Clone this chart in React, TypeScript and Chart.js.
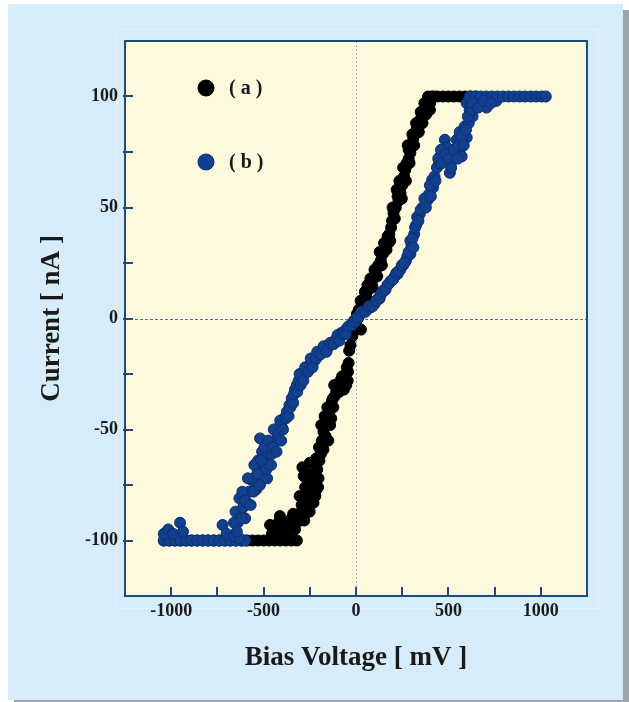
import React, { useEffect, useRef } from 'react';
import { Chart, registerables } from 'chart.js';

Chart.register(...registerables);

// Axis definitions
const xLabelTicks = [-1000, -500, 0, 500, 1000];
const yLabelTicks = [-100, -50, 0, 50, 100];
const xRange = [-1250, 1250];
const yRange = [-125, 125];
const xStep = 250;
const yStep = 25;

const xTitle = 'Bias Voltage [ mV ]';
const yTitle = 'Current [ nA ]';
const legendLabels = ['( a )', '( b )'];

// Series (a): black
const seriesA: [number, number][] = [
  [-1040, -100], [-1010, -100], [-980, -100], [-950, -100], [-920, -100], [-890, -100],
  [-860, -100], [-830, -100], [-800, -100], [-770, -100], [-740, -100], [-710, -100],
  [-680, -100], [-650, -100], [-620, -100], [-590, -100], [-560, -100], [-530, -100],
  [-500, -100], [-470, -100], [-440, -100], [-410, -100], [-380, -100], [-350, -100], [-320, -100],
  [-465, -93], [-440, -95], [-412, -89], [-401, -94.6], [-380, -92], [-348, -90], [-330, -95],
  [-310, -88], [-294, -84], [-280, -91], [-270, -86], [-251, -87], [-241, -81], [-260, -78],
  [-230, -83], [-214, -77], [-225, -74], [-203, -72], [-283, -71], [-290, -67], [-265, -70],
  [-250, -65], [-198, -64], [-210, -68], [-176, -59], [-190, -61], [-150, -55], [-165, -53],
  [-176, -51], [-160, -47], [-134, -45], [-145, -42], [-123, -40], [-130, -37], [-107, -33],
  [-115, -35], [-90, -33], [-70, -31], [-53, -30], [-60, -27], [-43, -24], [-50, -22],
  [-37, -14.5], [-20, -8], [-5, -3], [10, 0], [27, -5], [20, 2], [35, 5], [43, 7], [55, 10],
  [70, 13], [85, 16], [96, 18.5], [110, 22], [120, 24], [134, 26], [145, 29], [160, 31],
  [176, 34], [171, 37], [180, 38], [190, 41], [195, 44], [203, 47.5], [215, 50], [225, 55],
  [230, 53], [241, 56.6], [240, 60], [250, 60], [260, 64], [267, 67], [275, 70], [285, 72],
  [285, 76], [294, 74.6], [300, 78], [310, 81], [321, 83.7], [330, 84], [330, 86], [340, 88],
  [348, 89.6], [355, 92], [364, 93], [375, 94], [385, 95.5], [395, 98], [401, 97], [410, 100],
  [420, 100], [440, 100], [470, 100], [500, 100], [530, 100], [560, 100], [590, 100],
  [620, 100], [650, 100],
  [-455, -97], [-420, -92], [-395, -97], [-360, -96], [-340, -88], [-320, -92], [-300, -90],
  [-305, -80], [-285, -82], [-275, -76], [-262, -83], [-245, -74], [-235, -70], [-220, -80],
  [-205, -76], [-215, -63], [-200, -58], [-185, -55], [-188, -48], [-170, -44], [-155, -40],
  [-140, -48], [-125, -36], [-118, -30], [-100, -30], [-85, -28], [-75, -26], [-65, -32],
  [-45, -28], [-40, -20], [-30, -12], [-15, -6], [0, -2], [5, 2], [15, 4], [25, 8], [30, 3],
  [48, 12], [60, 9], [62, 15], [78, 18], [90, 14], [100, 22], [115, 19], [128, 30], [140, 24],
  [152, 34], [165, 31], [185, 35], [198, 50], [210, 45], [220, 58], [235, 62], [248, 54],
  [255, 68], [270, 62], [280, 78], [290, 70], [305, 83], [315, 78], [325, 88], [340, 84],
  [350, 93], [360, 88], [370, 97], [380, 92], [390, 100], [400, 94],
];

// Series (b): blue
const seriesB: [number, number][] = [
  [-1040, -100], [-1010, -100], [-980, -100], [-950, -100], [-920, -100], [-890, -100],
  [-860, -100], [-830, -100], [-800, -100], [-770, -100], [-740, -100], [-710, -100],
  [-680, -100], [-650, -100], [-620, -100], [-600, -100],
  [-1040, -97], [-1016, -95], [-990, -97], [-952, -92], [-936, -96], [-722, -93], [-700, -97],
  [-660, -98], [-631, -99],
  [-652, -87], [-640, -92], [-631, -81], [-610, -85], [-600, -90], [-578, -78], [-590, -83],
  [-561, -73], [-545, -72], [-540, -77], [-524, -69], [-530, -64], [-508, -63], [-519, -54],
  [-508, -60], [-500, -67], [-481, -72], [-490, -65], [-471, -61], [-455, -61], [-439, -55],
  [-428, -55], [-417, -49], [-401, -49], [-390, -45], [-374, -42], [-360, -39], [-348, -36],
  [-330, -32], [-320, -30], [-310, -28], [-290, -26], [-280, -24], [-267, -23.5], [-250, -21],
  [-240, -20], [-225, -19], [-200, -16.5], [-180, -15], [-165, -14], [-150, -13], [-130, -11],
  [-110, -9.5], [-96, -8.6], [-80, -6.5], [-64, -6], [-50, -4.5], [-30, -3], [-11, -1], [0, 0],
  [20, 1.5], [40, 3], [60, 4], [80, 5], [100, 6.5], [120, 9], [135, 11], [150, 12.7],
  [170, 15], [190, 17], [210, 19], [225, 20], [240, 22], [255, 24], [270, 26], [278, 28],
  [294, 29], [300, 33], [294, 35], [315, 38], [320, 41], [331, 45.7], [345, 47], [360, 50],
  [385, 53], [395, 56], [412, 62.4], [417, 59], [425, 64], [438, 68], [450, 70], [455, 73],
  [471, 74.6], [481, 80.5], [492, 77], [508, 65.6], [524, 71.5], [540, 74], [561, 74.6],
  [572, 73], [545, 80.5], [561, 84], [577, 80.5], [588, 86.5], [599, 81.5], [599, 97],
  [610, 88], [615, 94], [631, 91], [620, 96], [640, 97], [652, 98], [706, 95], [759, 98],
  [615, 100], [645, 100], [675, 100], [705, 100], [735, 100], [765, 100], [795, 100],
  [825, 100], [855, 100], [885, 100], [915, 100], [945, 100], [975, 100], [1005, 100], [1027, 100],
  [-660, -92], [-645, -96], [-620, -90], [-615, -78], [-600, -82], [-585, -72], [-570, -84],
  [-555, -78], [-550, -66], [-535, -70], [-520, -75], [-515, -64], [-495, -58], [-485, -68],
  [-475, -55], [-460, -66], [-450, -58], [-445, -50], [-430, -60], [-420, -52], [-410, -46],
  [-405, -55], [-395, -50], [-380, -45], [-365, -44], [-355, -40], [-340, -38], [-335, -34],
  [-318, -33], [-300, -30], [-305, -25], [-285, -28], [-275, -22], [-260, -24], [-245, -18],
  [-235, -22], [-215, -18], [-210, -15], [-190, -16], [-175, -12.5], [-160, -15], [-140, -11],
  [-120, -11.5], [-100, -7.5], [-90, -10], [-70, -7], [-55, -7], [-40, -3.5], [-20, -3],
  [-5, -1.5], [10, 0.5], [30, 3], [50, 3], [70, 5.5], [90, 5.5], [110, 8], [128, 9], [145, 12],
  [160, 13], [180, 16], [200, 17.5], [218, 20.5], [232, 21.5], [248, 24], [262, 25], [285, 30],
  [305, 36], [310, 32], [325, 42], [338, 44], [350, 49], [370, 54], [378, 50], [400, 60],
  [405, 55], [430, 62], [445, 72], [460, 76], [465, 70], [485, 74], [500, 72], [515, 68],
  [530, 76], [550, 72], [555, 78], [570, 82], [583, 78], [595, 85], [605, 91], [625, 94],
  [630, 97], [660, 95], [690, 98], [730, 97],
];

const colorA = '#000000';
const colorB = '#12408f';
const colorBBorder = '#0b2f72';
const frameColor = '#1b4a7b';
const serif = "'Liberation Serif', 'Times New Roman', serif";

const decorPlugin = {
  id: 'decor',
  beforeDraw(chart: any) {
    const { ctx, chartArea: a } = chart;
    const xs = chart.scales.x;
    const ys = chart.scales.y;
    ctx.save();
    ctx.fillStyle = '#fdf9dc';
    ctx.fillRect(a.left, a.top, a.right - a.left, a.bottom - a.top);
    const x0 = Math.round(xs.getPixelForValue(0)) + 0.5;
    const y0 = Math.round(ys.getPixelForValue(0)) + 0.5;
    ctx.lineWidth = 1;
    ctx.strokeStyle = '#a3adb8';
    ctx.setLineDash([2, 2]);
    ctx.beginPath();
    ctx.moveTo(x0, a.top);
    ctx.lineTo(x0, a.bottom);
    ctx.stroke();
    ctx.strokeStyle = '#3f6db3';
    ctx.setLineDash([3, 2]);
    ctx.beginPath();
    ctx.moveTo(a.left, y0);
    ctx.lineTo(a.right, y0);
    ctx.stroke();
    ctx.restore();
  },
  afterDraw(chart: any) {
    const { ctx, chartArea: a } = chart;
    const xs = chart.scales.x;
    const ys = chart.scales.y;
    ctx.save();
    ctx.strokeStyle = frameColor;
    ctx.lineWidth = 2;
    ctx.setLineDash([]);
    ctx.strokeRect(a.left, a.top, a.right - a.left, a.bottom - a.top);
    const tl = 9;
    ctx.beginPath();
    xs.ticks.forEach((t: any) => {
      if (t.value <= xRange[0] || t.value >= xRange[1]) return;
      const px = Math.round(xs.getPixelForValue(t.value));
      ctx.moveTo(px, a.bottom);
      ctx.lineTo(px, a.bottom - tl);
    });
    ys.ticks.forEach((t: any) => {
      if (t.value <= yRange[0] || t.value >= yRange[1]) return;
      const py = Math.round(ys.getPixelForValue(t.value));
      ctx.moveTo(a.left - 2, py);
      ctx.lineTo(a.left + tl - 1, py);
    });
    ctx.stroke();
    const items = [
      { label: legendLabels[0], fill: colorA, stroke: colorA, dy: 47 },
      { label: legendLabels[1], fill: colorB, stroke: colorBBorder, dy: 121 },
    ];
    ctx.font = `bold 20px ${serif}`;
    ctx.textBaseline = 'middle';
    ctx.textAlign = 'left';
    items.forEach((it) => {
      const cx = a.left + 81;
      const cy = a.top + it.dy;
      ctx.beginPath();
      ctx.arc(cx, cy, 8, 0, Math.PI * 2);
      ctx.fillStyle = it.fill;
      ctx.fill();
      ctx.lineWidth = 1;
      ctx.strokeStyle = it.stroke;
      ctx.stroke();
      ctx.fillStyle = '#1a1a1a';
      ctx.fillText(it.label, cx + 23, cy + 1);
    });
    ctx.restore();
  },
};

export default function App() {
  const ref = useRef<HTMLCanvasElement | null>(null);

  useEffect(() => {
    if (!ref.current) return;
    const chart = new Chart(ref.current, {
      type: 'scatter',
      data: {
        datasets: [
          {
            label: '(b)',
            data: seriesB.map(([x, y]) => ({ x, y })),
            backgroundColor: colorB,
            borderColor: colorBBorder,
            borderWidth: 1,
            pointRadius: 5.5,
            order: 0,
          },
          {
            label: '(a)',
            data: seriesA.map(([x, y]) => ({ x, y })),
            backgroundColor: colorA,
            borderColor: colorA,
            borderWidth: 1,
            pointRadius: 5.5,
            order: 1,
          },
        ],
      },
      options: {
        animation: false,
        responsive: false,
        devicePixelRatio: 1,
        layout: { padding: { left: 8, top: 41, right: 42, bottom: 0 } },
        plugins: {
          legend: { display: false },
          tooltip: { enabled: false },
        },
        scales: {
          x: {
            type: 'linear',
            min: xRange[0],
            max: xRange[1],
            grid: { display: false, drawTicks: false },
            border: { display: false },
            ticks: {
              stepSize: xStep,
              autoSkip: false,
              maxRotation: 0,
              minRotation: 0,
              padding: 5,
              color: '#1a1a1a',
              font: { family: serif, size: 18, weight: 'bold' },
              callback: (v: any) => (xLabelTicks.includes(Number(v)) ? String(v) : ''),
            },
            title: {
              display: true,
              text: xTitle,
              color: '#1a1a1a',
              font: { family: serif, size: 27, weight: 'bold' },
              padding: { top: 0, bottom: 28 },
            },
            afterFit: (s: any) => {
              s.height = 106;
            },
          },
          y: {
            type: 'linear',
            min: yRange[0],
            max: yRange[1],
            grid: { display: false, drawTicks: false },
            border: { display: false },
            ticks: {
              stepSize: yStep,
              autoSkip: false,
              padding: 7,
              color: '#1a1a1a',
              font: { family: serif, size: 18, weight: 'bold' },
              callback: (v: any) => (yLabelTicks.includes(Number(v)) ? String(v) : ''),
            },
            title: {
              display: true,
              text: yTitle,
              color: '#1a1a1a',
              font: { family: serif, size: 27, weight: 'bold' },
              padding: { top: 28, bottom: 0 },
            },
            afterFit: (s: any) => {
              s.width = 117;
            },
          },
        },
      },
      plugins: [decorPlugin],
    });
    return () => chart.destroy();
  }, []);

  return (
    <div style={{ position: 'fixed', left: 0, top: 0, width: 629, height: 702, overflow: 'hidden', background: '#ffffff' }}>
      <div style={{ position: 'absolute', left: 14, top: 10, width: 620, height: 700, background: '#99a6b0' }} />
      <div style={{ position: 'absolute', left: 8, top: 4, width: 615, height: 696, background: '#d6ecfa' }} />
      <div style={{ position: 'absolute', left: 116, top: 29, width: 483, height: 580, border: '1px solid #e2f1fc', boxSizing: 'border-box' }} />
      <canvas ref={ref} width={629} height={702} style={{ position: 'absolute', left: 0, top: 0, width: 629, height: 702 }} />
    </div>
  );
}
